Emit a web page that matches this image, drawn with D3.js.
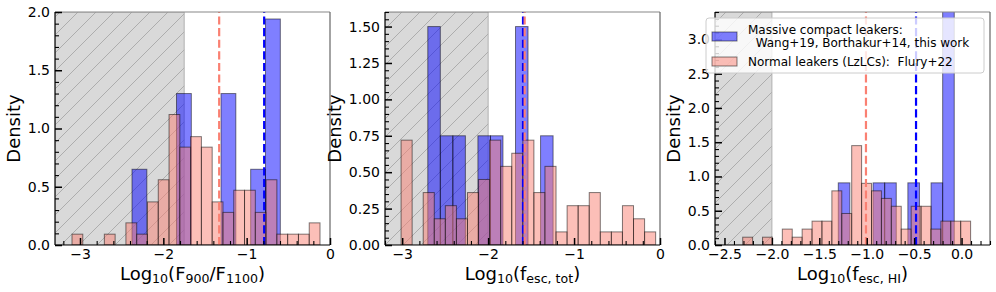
<!DOCTYPE html>
<html>
<head>
<meta charset="utf-8">
<script src="https://cdn.jsdelivr.net/npm/d3@7"></script>
<style>
  body { margin: 0; background: #fff; }
  svg { font-family: "DejaVu Sans", sans-serif; }
  text { white-space: pre; }
</style>
</head>
<body>
<svg id="chart" width="996" height="292"></svg>
<script>
// ---- panel 1: Log10(F900/F1100) ----
var f900BlueStart = -2.376, f900BlueBin = 0.178;
var f900Blue = [0.65, 0, 0, 1.30, 0, 0, 1.30, 0, 0.65, 1.94];
var f900PinkStart = -3.096, f900PinkBin = 0.1294;
var f900Pink = [0.093, 0, 0, 0.093, 0, 0.19, 0.093, 0.37, 0.56, 1.12, 0.84, 0.93,
                0.84, 0.37, 0.28, 0.47, 0.47, 0.28, 0.56, 0.093, 0.093, 0.093, 0.19];
var f900Medians = [-0.79, -1.33];      // blue, pink
var f900XTicks = [-3, -2, -1, 0];
var f900YTicks = [0, 0.5, 1.0, 1.5, 2.0];

// ---- panel 2: Log10(f_esc,tot) ----
var totBlueStart = -2.702, totBlueBin = 0.1458;
var totBlue = [1.5, 0.75, 0.75, 0, 0.75, 0.75, 0, 1.5, 0, 0.75];
var totPinkStart = -3.013, totPinkBin = 0.1288;
var totPink = [0.72, 0, 0.36, 0.18, 0.27, 0.18, 0.36, 0.45, 0.72, 0.54, 0.63, 0.72,
               0.36, 0.54, 0.09, 0.27, 0.27, 0.36, 0.09, 0.09, 0.27, 0.18, 0.09];
var totMedians = [-1.594, -1.575];
var totXTicks = [-3, -2, -1, 0];
var totYTicks = [0, 0.25, 0.5, 0.75, 1.0, 1.25, 1.5];

// ---- panel 3: Log10(f_esc,HI) ----
var hiBlueStart = -1.30, hiBlueBin = 0.1223;
var hiBlue = [0.907, 0, 0, 0.907, 0.907, 0, 0.907, 0, 0.907, 3.63];
var hiPinkStart = -2.308, hiPinkBin = 0.1045;
var hiPink = [0.114, 0, 0.114, 0, 0.232, 0.114, 0.232, 0.348, 0.348, 0.79, 0.46, 1.45,
              0.9, 0.79, 0.68, 0.565, 0.232, 0.565, 0.565, 0.232, 0.348, 0.348, 0.348];
var hiMedians = [-0.48, -1.008];
var hiXTicks = [-2.5, -2.0, -1.5, -1.0, -0.5, 0.0];
var hiYTicks = [0, 0.5, 1.0, 1.5, 2.0, 2.5, 3.0];

var legendLabels = ["Massive compact leakers:", "  Wang+19, Borthakur+14, this work",
                    "Normal leakers (LzLCs):  Flury+22"];

var BLUE = "blue", PINK = "salmon";
var plotTop = 12, plotBottom = 245, plotW = 275;

var panels = [
  {left: 55, xDomain: [-3.3, 0], yDomain: [0, 2], limit: -1.75,
   blueStart: f900BlueStart, blueBin: f900BlueBin, blue: f900Blue,
   pinkStart: f900PinkStart, pinkBin: f900PinkBin, pink: f900Pink, medians: f900Medians,
   xTicks: f900XTicks, xMinor: 0.2, xFmt: d3.format("d"),
   yTicks: f900YTicks, yMinor: 0.1, yFmt: d3.format(".1f"), ylabelOff: 34.6,
   xlabel: [["Log"], ["10", 1], ["(F"], ["900", 1], ["/F"], ["1100", 1], [")"]]},
  {left: 385, xDomain: [-3.2, 0], yDomain: [0, 1.6], limit: -2.0,
   blueStart: totBlueStart, blueBin: totBlueBin, blue: totBlue,
   pinkStart: totPinkStart, pinkBin: totPinkBin, pink: totPink, medians: totMedians,
   xTicks: totXTicks, xMinor: 0.2, xFmt: d3.format("d"),
   yTicks: totYTicks, yMinor: 0.05, yFmt: d3.format(".2f"), ylabelOff: 43.6,
   xlabel: [["Log"], ["10", 1], ["(f"], ["esc, tot", 1], [")"]]},
  {left: 715, xDomain: [-2.6, 0.3], yDomain: [0, 3.4], limit: -2.0,
   blueStart: hiBlueStart, blueBin: hiBlueBin, blue: hiBlue,
   pinkStart: hiPinkStart, pinkBin: hiPinkBin, pink: hiPink, medians: hiMedians,
   xTicks: hiXTicks, xMinor: 0.1, xFmt: d3.format(".1f"),
   yTicks: hiYTicks, yMinor: 0.1, yFmt: d3.format(".1f"), ylabelOff: 34.6,
   xlabel: [["Log"], ["10", 1], ["(f"], ["esc, HI", 1], [")"]]}
];

var svg = d3.select("#chart");
var defs = svg.append("defs");
var hatch = defs.append("pattern").attr("id", "hatch")
  .attr("patternUnits", "userSpaceOnUse").attr("width", 18).attr("height", 18);
hatch.append("path").attr("d", "M-2,2 L2,-2 M0,18 L18,0 M16,20 L20,16")
  .attr("stroke", "#a8a8a8").attr("stroke-width", 0.9);

function minorValues(domain, step, majors) {
  var out = [];
  var n = Math.round((domain[1] - domain[0]) / step);
  var s = Math.ceil(domain[0] / step - 1e-6);
  for (var k = s; k * step <= domain[1] + 1e-9; k++) {
    var v = +(k * step).toFixed(6);
    if (!majors.some(function (m) { return Math.abs(m - v) < 1e-6; })) out.push(v);
  }
  return out;
}

function drawBars(g, x, y, start, bin, heights, color) {
  var items = heights.map(function (h, i) { return {x0: start + i * bin, x1: start + (i + 1) * bin, h: h}; })
    .filter(function (d) { return d.h > 0; });
  g.selectAll(null).data(items).enter().append("rect")
    .attr("x", function (d) { return x(d.x0); })
    .attr("width", function (d) { return x(d.x1) - x(d.x0); })
    .attr("y", function (d) { return y(d.h); })
    .attr("height", function (d) { return y(0) - y(d.h); })
    .attr("fill", color).attr("fill-opacity", 0.5)
    .attr("stroke", "black").attr("stroke-opacity", 0.5).attr("stroke-width", 1);
}

panels.forEach(function (p, idx) {
  var x = d3.scaleLinear().domain(p.xDomain).range([p.left, p.left + plotW]);
  var y = d3.scaleLinear().domain(p.yDomain).range([plotBottom, plotTop]);

  defs.append("clipPath").attr("id", "clip" + idx).append("rect")
    .attr("x", p.left).attr("y", plotTop).attr("width", plotW).attr("height", plotBottom - plotTop);
  var g = svg.append("g").attr("clip-path", "url(#clip" + idx + ")");

  // excluded region
  g.append("rect").attr("x", x(p.xDomain[0])).attr("y", plotTop)
    .attr("width", x(p.limit) - x(p.xDomain[0])).attr("height", plotBottom - plotTop)
    .attr("fill", "#d9d9d9");
  g.append("rect").attr("x", x(p.xDomain[0])).attr("y", plotTop)
    .attr("width", x(p.limit) - x(p.xDomain[0])).attr("height", plotBottom - plotTop)
    .attr("fill", "url(#hatch)").attr("stroke", "#b0b0b0").attr("stroke-width", 1);

  drawBars(g, x, y, p.blueStart, p.blueBin, p.blue, BLUE);
  drawBars(g, x, y, p.pinkStart, p.pinkBin, p.pink, PINK);

  // medians
  [BLUE, PINK].forEach(function (c, i) {
    g.append("line").attr("x1", x(p.medians[i])).attr("x2", x(p.medians[i]))
      .attr("y1", plotBottom).attr("y2", plotTop)
      .attr("stroke", c).attr("stroke-width", 2.2).attr("stroke-dasharray", "8.1,3.5");
  });

  // spines
  svg.append("line").attr("x1", p.left).attr("x2", p.left + plotW).attr("y1", plotTop).attr("y2", plotTop)
    .attr("stroke", "#888").attr("stroke-width", 1.2);
  svg.append("line").attr("x1", p.left + plotW).attr("x2", p.left + plotW).attr("y1", plotTop).attr("y2", plotBottom)
    .attr("stroke", "#666").attr("stroke-width", 1.2);
  svg.append("line").attr("x1", p.left).attr("x2", p.left + plotW).attr("y1", plotBottom).attr("y2", plotBottom)
    .attr("stroke", "black").attr("stroke-width", 1.2);
  svg.append("line").attr("x1", p.left).attr("x2", p.left).attr("y1", plotTop).attr("y2", plotBottom)
    .attr("stroke", "black").attr("stroke-width", 1.2);

  // ticks
  function styleAxis(sel, size) {
    sel.select(".domain").remove();
    sel.attr("font-family", null).attr("font-size", 14);
    sel.selectAll("text").attr("fill", "black");
    sel.selectAll("line").attr("stroke", "black").attr("stroke-width", size);
  }
  svg.append("g").attr("transform", "translate(0," + plotBottom + ")")
    .call(d3.axisBottom(x).tickValues(minorValues(p.xDomain, p.xMinor, p.xTicks)).tickSize(-4).tickFormat(""))
    .call(styleAxis, 1.1);
  svg.append("g").attr("transform", "translate(0," + plotBottom + ")")
    .call(d3.axisBottom(x).tickValues(p.xTicks).tickSize(-7).tickPadding(4).tickFormat(p.xFmt))
    .call(styleAxis, 1.5);
  svg.append("g").attr("transform", "translate(" + p.left + ",0)")
    .call(d3.axisLeft(y).tickValues(minorValues(p.yDomain, p.yMinor, p.yTicks)).tickSize(-4).tickFormat(""))
    .call(styleAxis, 1.1);
  svg.append("g").attr("transform", "translate(" + p.left + ",0)")
    .call(d3.axisLeft(y).tickValues(p.yTicks).tickSize(-7).tickPadding(5).tickFormat(p.yFmt))
    .call(styleAxis, 1.5);

  // axis labels
  svg.append("text").attr("transform", "translate(" + (p.left - p.ylabelOff) + "," + ((plotTop + plotBottom) / 2) + ") rotate(-90)")
    .attr("text-anchor", "middle").attr("font-size", 18).text("Density");
  var xl = svg.append("text").attr("x", p.left + plotW / 2).attr("y", 280)
    .attr("text-anchor", "middle").attr("font-size", 18);
  var shifted = false;
  p.xlabel.forEach(function (piece) {
    var t = xl.append("tspan").text(piece[0]);
    if (piece[1] && !shifted) { t.attr("dy", 3).attr("font-size", 12.6); shifted = true; }
    else if (piece[1]) { t.attr("font-size", 12.6); }
    else if (shifted) { t.attr("dy", -3); shifted = false; }
  });
});

// legend on panel 3
var lg = svg.append("g");
lg.append("rect").attr("x", 706).attr("y", 18).attr("width", 278).attr("height", 55).attr("rx", 3)
  .attr("fill", "white").attr("fill-opacity", 0.8).attr("stroke", "#cccccc").attr("stroke-width", 1);
[[BLUE, 32], [PINK, 57]].forEach(function (h) {
  lg.append("rect").attr("x", 712).attr("y", h[1]).attr("width", 25).attr("height", 9)
    .attr("fill", h[0]).attr("fill-opacity", 0.5)
    .attr("stroke", "black").attr("stroke-opacity", 0.5).attr("stroke-width", 1);
});
lg.selectAll(null).data(legendLabels).enter().append("text")
  .attr("x", 748).attr("y", function (d, i) { return [34, 47, 66][i]; })
  .attr("font-size", 12).text(function (d) { return d; });
</script>
</body>
</html>
